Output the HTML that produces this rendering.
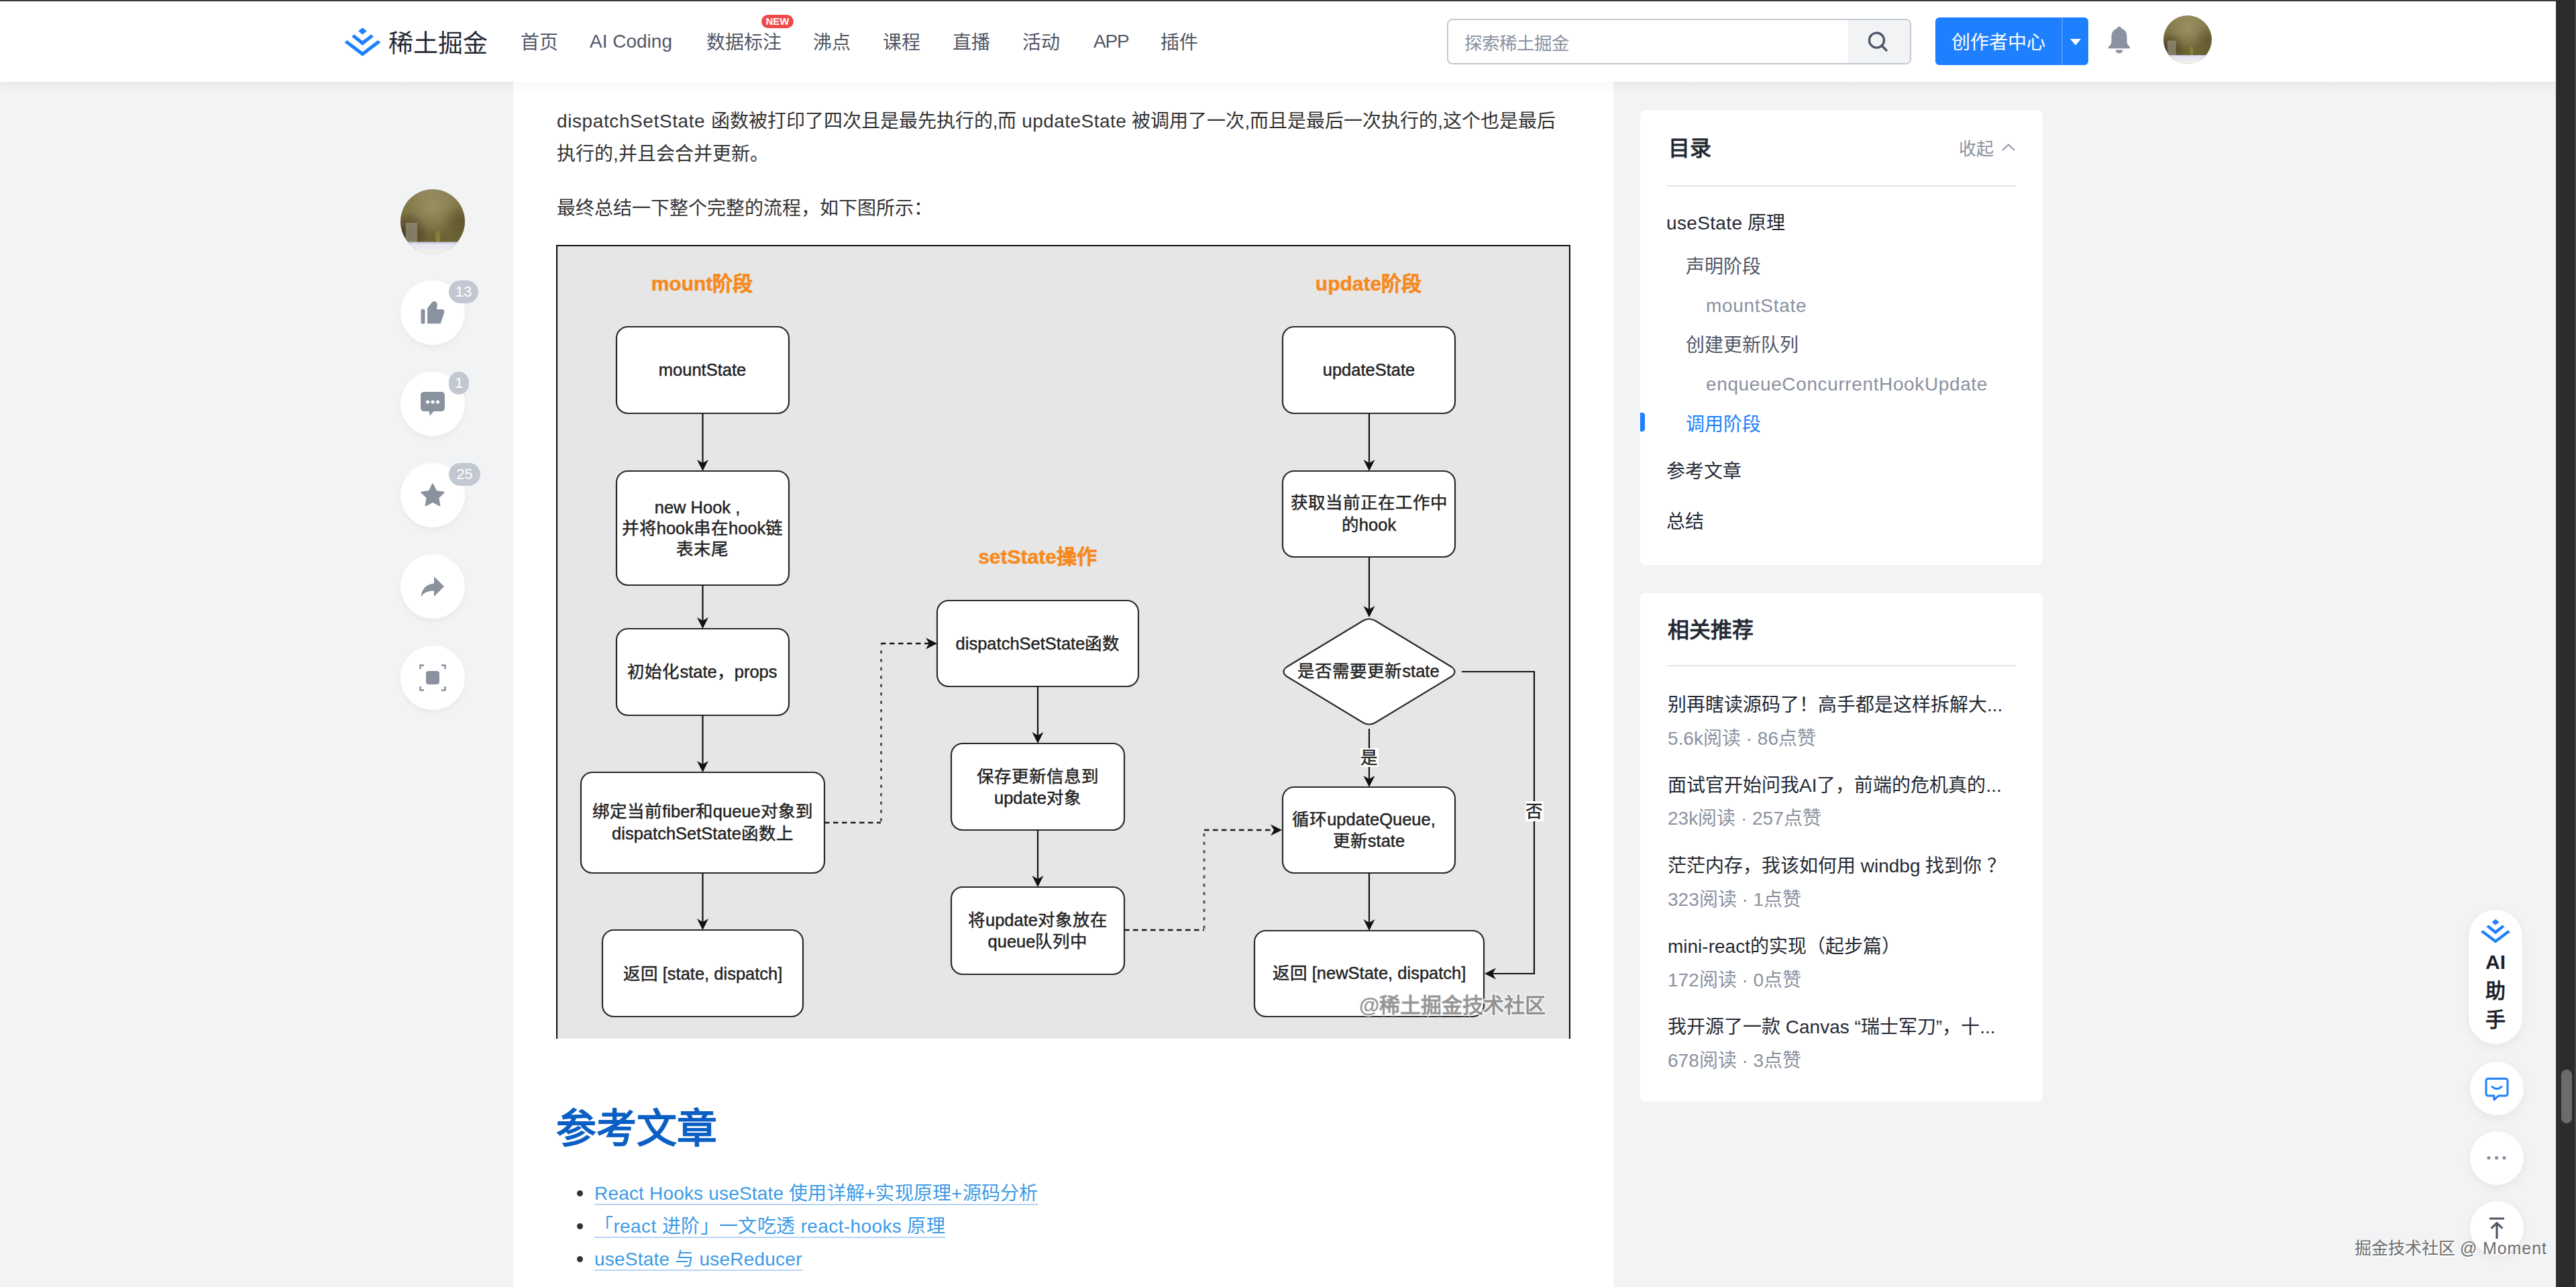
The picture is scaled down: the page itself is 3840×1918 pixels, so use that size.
<!DOCTYPE html>
<html lang="zh-CN">
<head>
<meta charset="utf-8">
<style>
*{box-sizing:border-box;margin:0;padding:0}
html,body{width:3840px;height:1918px;overflow:hidden}
body{background:#f2f3f5;font-family:"Liberation Sans",sans-serif;position:relative;color:#252933}
.abs{position:absolute}
.nw{white-space:nowrap}
#topline{left:0;top:0;width:3840px;height:2px;background:#3a3a3a}
#header{left:0;top:2px;width:3810px;height:120px;background:#fff;box-shadow:0 2px 8px rgba(0,0,0,.03)}
#scroll{left:3810px;top:0;width:30px;height:1918px;background:#2c2c2c}
#thumb{left:3818px;top:1594px;width:16px;height:80px;border-radius:8px;background:#6b6b6b}
.nav{font-size:28px;color:#515767;line-height:40px;top:43.5px}
#article{left:765px;top:122px;width:1640px;height:1796px;background:#fff}
.p{font-size:28px;color:#333;line-height:49px;left:830px}
.circ{width:96px;height:96px;border-radius:50%;background:#fff;box-shadow:0 4px 8px rgba(0,0,0,.045)}
.badge{background:#c2c8d1;color:#fff;font-size:22px;height:34px;line-height:34px;border-radius:17px;text-align:center;padding:0 8px}
.card{background:#fff;border-radius:8px}
.toc{font-size:28px;line-height:40px;left:2484px}
.rt{font-size:28px;line-height:40px;color:#252933;left:2486px}
.rm{font-size:28px;line-height:36px;color:#8a919f;left:2486px}
.lnk{left:886px;font-size:28px;line-height:31px;color:#3d9be6;border-bottom:2px solid #b9d3f5;padding-bottom:0}
.fcirc{width:80px;height:80px;border-radius:50%;background:#fff;box-shadow:0 4px 16px rgba(0,0,0,.06)}
</style>
</head>
<body>
<svg width="0" height="0" style="position:absolute"><defs>
<linearGradient id="avbg" x1="0" y1="0" x2="0" y2="1"><stop offset="0" stop-color="#8c8456"/><stop offset=".45" stop-color="#7b7042"/><stop offset=".8" stop-color="#6a6232"/></linearGradient>
<radialGradient id="avhl" cx=".5" cy=".3" r=".4"><stop offset="0" stop-color="#b8ad80" stop-opacity=".45"/><stop offset="1" stop-color="#b8ad80" stop-opacity="0"/></radialGradient>
<radialGradient id="avdk" cx=".1" cy=".7" r=".35"><stop offset="0" stop-color="#3c3220" stop-opacity=".8"/><stop offset="1" stop-color="#3c3220" stop-opacity="0"/></radialGradient>
<radialGradient id="avdr" cx=".95" cy=".5" r=".3"><stop offset="0" stop-color="#4a4220" stop-opacity=".5"/><stop offset="1" stop-color="#4a4220" stop-opacity="0"/></radialGradient>
<clipPath id="avclip"><circle cx="50" cy="50" r="50"/></clipPath>
<symbol id="avatar" viewBox="0 0 100 100"><g clip-path="url(#avclip)">
<rect width="100" height="100" fill="url(#avbg)"/>
<rect width="100" height="100" fill="url(#avhl)"/>
<rect width="100" height="100" fill="url(#avdk)"/>
<rect width="100" height="100" fill="url(#avdr)"/>
<rect x="8" y="52" width="18" height="30" fill="#9a9280" opacity=".7"/>
<ellipse cx="58" cy="74" rx="4" ry="10" fill="#85843a" opacity=".9"/>
<rect x="0" y="82" width="100" height="18" fill="#e9e8f2"/>
<rect x="0" y="82" width="100" height="2.5" fill="#c9cae0"/>
<rect x="0" y="93" width="100" height="7" fill="#f3eee6"/>
</symbol></defs></svg>
<div id="topline" class="abs"></div>
<div id="header" class="abs"></div>
<!-- logo -->
<svg class="abs" style="left:505px;top:35px" width="70" height="55" viewBox="505 35 70 55">
<path fill="#1e80ff" d="M540.4 41.2L546.7 46.3L540.4 51.5L534.1 46.3Z M524.2 54.4L527.9 51.2L540.4 60.9L553.3 51.2L556.9 54.4L540.4 67.7Z M513.5 63.2L517.4 60L540.4 77.3L563.3 60L567.4 63.2L540.4 83.7Z"/>
</svg>
<div class="abs nw" style="left:579px;top:38.5px;font-size:37px;line-height:54px;color:#252933;font-weight:500">稀土掘金</div>
<div class="abs nw nav" style="left:776px">首页</div>
<div class="abs nw nav" style="left:879px;top:42px">AI Coding</div>
<div class="abs nw nav" style="left:1053px">数据标注</div>
<div class="abs nw" style="left:1135px;top:22px;width:48px;height:20px;border-radius:10px;background:#ee4a4a;color:#fff;font-size:15px;line-height:20px;text-align:center;font-weight:bold">NEW</div>
<div class="abs nw nav" style="left:1212px">沸点</div>
<div class="abs nw nav" style="left:1316px">课程</div>
<div class="abs nw nav" style="left:1420px">直播</div>
<div class="abs nw nav" style="left:1524px">活动</div>
<div class="abs nw nav" style="left:1630px;top:41.5px;letter-spacing:-1.2px">APP</div>
<div class="abs nw nav" style="left:1730px">插件</div>
<!-- search -->
<div class="abs" style="left:2157px;top:28px;width:692px;height:68px;border:2px solid #c2c8d1;border-radius:8px;background:#fff;overflow:hidden">
  <div class="abs" style="left:596px;top:0;width:92px;height:64px;background:#f2f3f5"></div>
</div>
<div class="abs nw" style="left:2183px;top:45px;font-size:26.5px;line-height:40px;color:#8a919f">探索稀土掘金</div>
<svg class="abs" style="left:2780px;top:42px" width="40" height="40" viewBox="0 0 40 40">
<circle cx="17.5" cy="18" r="11" fill="none" stroke="#515767" stroke-width="3.4"/>
<path d="M25.5 26.5L32 33" stroke="#515767" stroke-width="3.4" stroke-linecap="round"/>
</svg>
<!-- creator btn -->
<div class="abs" style="left:2885px;top:26px;width:228px;height:71px;border-radius:6px;background:#1e80ff"></div>
<div class="abs" style="left:3073px;top:26px;width:2px;height:71px;background:#4a9aff"></div>
<div class="abs nw" style="left:2909px;top:43.5px;font-size:28px;line-height:40px;color:#fff">创作者中心</div>
<svg class="abs" style="left:3084px;top:55px" width="20" height="15" viewBox="0 0 20 15"><path d="M2 3H18L10 12.5Z" fill="#fff"/></svg>
<!-- bell -->
<svg class="abs" style="left:3138px;top:36px" width="42" height="46" viewBox="0 0 42 46">
<path fill="#8a919f" d="M21 3.5c1.8 0 3 1.2 3 2.8c5.2 1.5 8.5 6 8.5 12v7.5c0 3 1.5 5.5 4.2 8c1 .9.6 2.4-.9 2.4H6.2c-1.5 0-1.9-1.5-.9-2.4c2.7-2.5 4.2-5 4.2-8V18.3c0-6 3.3-10.5 8.5-12c0-1.6 1.2-2.8 3-2.8Z M15.5 38.5h11c0 3-2.4 4.8-5.5 4.8s-5.5-1.8-5.5-4.8Z"/>
</svg>
<!-- avatar header -->
<svg class="abs" style="left:3225px;top:23px" width="72" height="72"><use href="#avatar" width="72" height="72"/></svg>

<!-- scrollbar -->
<div id="scroll" class="abs"></div>
<div id="thumb" class="abs"></div>
<div class="abs" style="left:3838px;top:0;width:2px;height:1918px;background:#474747"></div>
<div class="abs" style="left:3810px;top:0;width:1px;height:1918px;background:#3a3a3a"></div>

<!-- article -->
<div id="article" class="abs"></div>
<div class="abs" style="left:0;top:122px;width:3810px;height:22px;background:linear-gradient(180deg,rgba(0,0,0,.025),rgba(0,0,0,0))"></div>
<div class="abs nw p" style="top:156px"><span style="letter-spacing:.6px">dispatchSetState </span>函数被打印了四次且是最先执行的,而 <span style="letter-spacing:.45px">updateState </span>被调用了一次,而且是最后一次执行的,这个也是最后</div>
<div class="abs nw p" style="top:205px">执行的,并且会合并更新。</div>
<div class="abs nw p" style="top:286px">最终总结一下整个完整的流程，如下图所示：</div>

<!-- FLOWCHART -->
<svg class="abs" style="left:829px;top:365px" width="1512" height="1183" viewBox="829 365 1512 1183" font-family="Liberation Sans, sans-serif"><rect x="829" y="365" width="1512" height="1183" fill="#e6e6e6"/><path d="M830 1548V366H2340V1548" fill="none" stroke="#111" stroke-width="2.2"/><g fill="#f68a1e" font-weight="bold" stroke="#f68a1e" stroke-width=".5"><text x="1046.5" y="433.1" font-size="30" text-anchor="middle" >mount阶段</text><text x="1546.5" y="840.1" font-size="30" text-anchor="middle" >setState操作</text><text x="2040" y="433.1" font-size="30" text-anchor="middle" >update阶段</text></g><rect x="919" y="487" width="257" height="129" rx="17" ry="17" fill="#fff" stroke="#2a2a2a" stroke-width="2.2"/><rect x="919" y="702" width="257" height="170" rx="17" ry="17" fill="#fff" stroke="#2a2a2a" stroke-width="2.2"/><rect x="919" y="937" width="257" height="129" rx="17" ry="17" fill="#fff" stroke="#2a2a2a" stroke-width="2.2"/><rect x="866" y="1151" width="363" height="150" rx="17" ry="17" fill="#fff" stroke="#2a2a2a" stroke-width="2.2"/><rect x="898" y="1386" width="299" height="129" rx="17" ry="17" fill="#fff" stroke="#2a2a2a" stroke-width="2.2"/><path d="M1047.5 616V692" stroke="#111" stroke-width="2.2" fill="none"/><path d="M1047.5 702L1039.0 685L1047.5 690L1056.0 685Z" fill="#111"/><path d="M1047.5 872V927" stroke="#111" stroke-width="2.2" fill="none"/><path d="M1047.5 937L1039.0 920L1047.5 925L1056.0 920Z" fill="#111"/><path d="M1047.5 1066V1141" stroke="#111" stroke-width="2.2" fill="none"/><path d="M1047.5 1151L1039.0 1134L1047.5 1139L1056.0 1134Z" fill="#111"/><path d="M1047.5 1301V1376" stroke="#111" stroke-width="2.2" fill="none"/><path d="M1047.5 1386L1039.0 1369L1047.5 1374L1056.0 1369Z" fill="#111"/><rect x="1397" y="895" width="300" height="128" rx="17" ry="17" fill="#fff" stroke="#2a2a2a" stroke-width="2.2"/><rect x="1418" y="1108" width="258" height="129" rx="17" ry="17" fill="#fff" stroke="#2a2a2a" stroke-width="2.2"/><rect x="1418" y="1322" width="258" height="130" rx="17" ry="17" fill="#fff" stroke="#2a2a2a" stroke-width="2.2"/><path d="M1547 1023V1098" stroke="#111" stroke-width="2.2" fill="none"/><path d="M1547 1108L1538.5 1091L1547 1096L1555.5 1091Z" fill="#111"/><path d="M1547 1237V1312" stroke="#111" stroke-width="2.2" fill="none"/><path d="M1547 1322L1538.5 1305L1547 1310L1555.5 1305Z" fill="#111"/><rect x="1912" y="487" width="257" height="129" rx="17" ry="17" fill="#fff" stroke="#2a2a2a" stroke-width="2.2"/><rect x="1912" y="702" width="257" height="128" rx="17" ry="17" fill="#fff" stroke="#2a2a2a" stroke-width="2.2"/><rect x="1912" y="1173" width="257" height="128" rx="17" ry="17" fill="#fff" stroke="#2a2a2a" stroke-width="2.2"/><rect x="1870" y="1387" width="342" height="128" rx="17" ry="17" fill="#fff" stroke="#2a2a2a" stroke-width="2.2"/><path d="M2041 616V692" stroke="#111" stroke-width="2.2" fill="none"/><path d="M2041 702L2032.5 685L2041 690L2049.5 685Z" fill="#111"/><path d="M2041 830V910" stroke="#111" stroke-width="2.2" fill="none"/><path d="M2041 920L2032.5 903L2041 908L2049.5 903Z" fill="#111"/><path d="M2041 1301V1377" stroke="#111" stroke-width="2.2" fill="none"/><path d="M2041 1387L2032.5 1370L2041 1375L2049.5 1370Z" fill="#111"/><path d="M2032 925Q2041 920 2050 925L2164 994Q2173 1001 2164 1008L2050 1077Q2041 1082 2032 1077L1918 1008Q1909 1001 1918 994Z" fill="#fff" stroke="#2a2a2a" stroke-width="2.2"/><path d="M2041 1086V1162" stroke="#111" stroke-width="2.2"/><path d="M2041 1173L2032.5 1156L2041 1161L2049.5 1156Z" fill="#111"/><rect x="2028" y="1115" width="27" height="28" fill="#fff"/><path d="M2179 1001H2287V1451H2225" fill="none" stroke="#111" stroke-width="2.2"/><path d="M2213 1451L2230 1442.5L2225 1451L2230 1459.5Z" fill="#111"/><rect x="2274" y="1194" width="27" height="30" fill="#fff"/><path d="M1229 1226H1313M1313 959H1385" fill="none" stroke="#1a1a1a" stroke-width="2.4" stroke-dasharray="7.5 5.5"/><path d="M1313.5 1224V961" fill="none" stroke="#555" stroke-width="3" stroke-dasharray="4.5 8"/><path d="M1397 959L1380 950.5L1385 959L1380 967.5Z" fill="#111"/><path d="M1676 1386H1795M1795 1237H1899" fill="none" stroke="#1a1a1a" stroke-width="2.4" stroke-dasharray="7.5 5.5"/><path d="M1795 1384V1239" fill="none" stroke="#555" stroke-width="3" stroke-dasharray="4.5 8"/><path d="M1911 1237L1894 1228.5L1899 1237L1894 1245.5Z" fill="#111"/><g fill="#222" stroke="#222" stroke-width=".45"><text x="1047" y="560.4" font-size="25.5" text-anchor="middle" >mountState</text><text x="1039.5" y="764.9" font-size="25.5" text-anchor="middle" >new Hook ,</text><text x="1047" y="795.9" font-size="25.5" text-anchor="middle" >并将hook串在hook链</text><text x="1047" y="826.9" font-size="25.5" text-anchor="middle" >表末尾</text><text x="1047" y="1010.4" font-size="25.5" text-anchor="middle" >初始化state，props</text><text x="1047.5" y="1218.4" font-size="25.5" text-anchor="middle" >绑定当前fiber和queue对象到</text><text x="1047.5" y="1251.4" font-size="25.5" text-anchor="middle" >dispatchSetState函数上</text><text x="1047.5" y="1459.9" font-size="25.5" text-anchor="middle" >返回 [state, dispatch]</text><text x="1547" y="968.4" font-size="25.5" text-anchor="middle" >dispatchSetState函数</text><text x="1547" y="1166.4" font-size="25.5" text-anchor="middle" >保存更新信息到</text><text x="1547" y="1198.4" font-size="25.5" text-anchor="middle" >update对象</text><text x="1547" y="1380.4" font-size="25.5" text-anchor="middle" >将update对象放在</text><text x="1547" y="1412.4" font-size="25.5" text-anchor="middle" >queue队列中</text><text x="2040.5" y="560.4" font-size="25.5" text-anchor="middle" >updateState</text><text x="2040.5" y="758.4" font-size="25.5" text-anchor="middle" >获取当前正在工作中</text><text x="2040.5" y="791.4" font-size="25.5" text-anchor="middle" >的hook</text><text x="2040" y="1009.4" font-size="25.5" text-anchor="middle" >是否需要更新state</text><text x="2041" y="1138.4" font-size="25.5" text-anchor="middle" >是</text><text x="2287" y="1218.4" font-size="25.5" text-anchor="middle" >否</text><text x="2033" y="1229.9" font-size="25.5" text-anchor="middle" >循环updateQueue,</text><text x="2040.5" y="1262.4" font-size="25.5" text-anchor="middle" >更新state</text><text x="2041" y="1459.4" font-size="25.5" text-anchor="middle" >返回 [newState, dispatch]</text></g><text x="2165" y="1509" font-size="31" text-anchor="middle" fill="#7c7c7c" stroke="#fafafa" stroke-width="3.5" paint-order="stroke" font-weight="bold" opacity=".8">@稀土掘金技术社区</text></svg>
<!-- references -->
<div class="abs nw" style="left:829px;top:1648px;font-size:60px;line-height:70px;font-weight:bold;color:#0b5fc4">参考文章</div>
<div class="abs" style="left:860px;top:1774px;width:9px;height:9px;border-radius:50%;background:#333"></div>
<div class="abs" style="left:860px;top:1823px;width:9px;height:9px;border-radius:50%;background:#333"></div>
<div class="abs" style="left:860px;top:1872px;width:9px;height:9px;border-radius:50%;background:#333"></div>
<div class="abs nw lnk" style="top:1762.5px;letter-spacing:.18px">React Hooks useState 使用详解+实现原理+源码分析</div>
<div class="abs nw lnk" style="top:1811.5px;letter-spacing:.39px">「react 进阶」一文吃透 react-hooks 原理</div>
<div class="abs nw lnk" style="top:1860.5px;letter-spacing:.22px">useState 与 useReducer</div>
<!-- left sidebar -->
<svg class="abs" style="left:597px;top:282px" width="96" height="96"><use href="#avatar" width="96" height="96"/></svg>
<div class="abs circ" style="left:597px;top:418px"></div>
<div class="abs circ" style="left:597px;top:554px"></div>
<div class="abs circ" style="left:597px;top:690px"></div>
<div class="abs circ" style="left:597px;top:826px"></div>
<div class="abs circ" style="left:597px;top:962px"></div>
<svg class="abs" style="left:597px;top:418px" width="96" height="96" viewBox="0 0 96 96">
<rect x="30.5" y="42.6" width="6" height="22.2" rx="3" fill="#8a919f"/>
<path fill="#8a919f" d="M40 41.6L46 33.8C47.5 31.8 48.8 31 50.2 31C52.8 31 54.8 33.2 54.8 36C54.8 38.5 54.2 41 53.7 43.1H62.3C64.5 43.1 65.8 45.3 65.3 47.6L59.8 64.3H40Z"/>
</svg>
<div class="abs badge" style="left:669px;top:418px;width:44px;padding:0">13</div>
<svg class="abs" style="left:597px;top:554px" width="96" height="96" viewBox="0 0 96 96">
<path fill="#8a919f" d="M35 30h26c2.8 0 5 2.2 5 5v19c0 2.8-2.2 5-5 5H49.5l-5.5 6.5l-1.5-6.5H35c-2.8 0-5-2.2-5-5V35c0-2.8 2.2-5 5-5Z"/>
<circle cx="40.5" cy="45" r="2.6" fill="#fff"/><circle cx="48" cy="45" r="2.6" fill="#fff"/><circle cx="55.5" cy="45" r="2.6" fill="#fff"/>
</svg>
<div class="abs badge" style="left:669px;top:554px;width:30px;padding:0">1</div>
<svg class="abs" style="left:597px;top:690px" width="96" height="96" viewBox="0 0 96 96">
<path fill="#8a919f" d="M48 31.5l5.2 10.6l11.5 1.6l-8.3 8.1l2 11.5L48 57.9l-10.4 5.4l2-11.5l-8.3-8.1l11.5-1.6Z" stroke="#8a919f" stroke-width="2" stroke-linejoin="round"/>
</svg>
<div class="abs badge" style="left:669px;top:690px;width:47px;padding:0">25</div>
<svg class="abs" style="left:597px;top:826px" width="96" height="96" viewBox="0 0 96 96">
<path fill="#8a919f" d="M50 33l15 15l-15 15V54.5c-9 0-15 2.5-19.5 9c1-11 7-18.5 19.5-20Z"/>
</svg>
<svg class="abs" style="left:597px;top:962px" width="96" height="96" viewBox="0 0 96 96">
<path fill="none" stroke="#8a919f" stroke-width="2.6" d="M29.5 35V29.5H35 M61 29.5h5.5V35 M66.5 61v5.5H61 M35 66.5h-5.5V61"/>
<rect x="38" y="38" width="20" height="20" rx="4" fill="#8a919f"/>
</svg>
<!-- right cards -->
<div class="abs card" style="left:2445px;top:164px;width:600px;height:678px"></div>
<div class="abs nw" style="left:2487px;top:200px;font-size:32px;line-height:42px;font-weight:bold;color:#252933">目录</div>
<div class="abs nw" style="left:2920px;top:203.5px;font-size:26px;line-height:36px;color:#8a919f">收起</div>
<svg class="abs" style="left:2982px;top:210px" width="24" height="20" viewBox="0 0 24 20"><path d="M3 14L12 5.5L21 14" fill="none" stroke="#8a919f" stroke-width="1.9"/></svg>
<div class="abs" style="left:2485px;top:276px;width:520px;height:2px;background:#e4e6eb"></div>
<div class="abs nw toc" style="top:313px;color:#252933"><span style="letter-spacing:.35px">useState </span>原理</div>
<div class="abs nw toc" style="top:378px;left:2513px;color:#515767">声明阶段</div>
<div class="abs nw toc" style="top:436px;left:2543px;color:#8a919f;letter-spacing:.7px">mountState</div>
<div class="abs nw toc" style="top:495px;left:2513px;color:#515767">创建更新队列</div>
<div class="abs nw toc" style="top:553px;left:2543px;color:#8a919f;letter-spacing:.62px">enqueueConcurrentHookUpdate</div>
<div class="abs" style="left:2445px;top:615px;width:7px;height:28px;border-radius:0 4px 4px 0;background:#1e80ff"></div>
<div class="abs nw toc" style="top:613px;left:2513px;color:#1e80ff">调用阶段</div>
<div class="abs nw toc" style="top:683px;color:#252933">参考文章</div>
<div class="abs nw toc" style="top:758px;color:#252933">总结</div>

<div class="abs card" style="left:2445px;top:884px;width:600px;height:758px"></div>
<div class="abs nw" style="left:2486px;top:918px;font-size:32px;line-height:42px;font-weight:bold;color:#252933">相关推荐</div>
<div class="abs" style="left:2486px;top:991px;width:519px;height:2px;background:#e4e6eb"></div>
<div class="abs nw rt" style="top:1031px">别再瞎读源码了！高手都是这样拆解大...</div>
<div class="abs nw rm" style="top:1083px">5.6k阅读 · 86点赞</div>
<div class="abs nw rt" style="top:1151px">面试官开始问我AI了，前端的危机真的...</div>
<div class="abs nw rm" style="top:1202px">23k阅读 · 257点赞</div>
<div class="abs nw rt" style="top:1271px">茫茫内存，我该如何用 windbg 找到你 ？</div>
<div class="abs nw rm" style="top:1323px">323阅读 · 1点赞</div>
<div class="abs nw rt" style="top:1391px">mini-react的实现（起步篇）</div>
<div class="abs nw rm" style="top:1443px">172阅读 · 0点赞</div>
<div class="abs nw rt" style="top:1511px">我开源了一款 Canvas “瑞士军刀”，十...</div>
<div class="abs nw rm" style="top:1563px">678阅读 · 3点赞</div>

<!-- floating -->
<div class="abs" style="left:3680px;top:1356px;width:80px;height:200px;border-radius:40px;background:#fff;box-shadow:0 4px 16px rgba(0,0,0,.06)"></div>
<svg class="abs" style="left:3690px;top:1362px" width="60" height="50" viewBox="3690 1362 60 50">
<path fill="#1e80ff" d="M3720 1369.8L3725.5 1374.3L3720 1378.8L3714.5 1374.3Z M3706.5 1381.3L3709.7 1378.5L3720 1386.5L3730.3 1378.5L3733.5 1381.3L3720 1392.2Z M3698 1389L3701.4 1386.2L3720 1400.3L3738.6 1386.2L3742 1389L3720 1405.5Z"/>
</svg>
<div class="abs nw" style="left:3680px;top:1412px;width:80px;text-align:center;font-size:30px;line-height:43px;font-weight:bold;color:#1d2129">AI<br>助<br>手</div>
<div class="abs fcirc" style="left:3682px;top:1582px"></div>
<svg class="abs" style="left:3682px;top:1582px" width="80" height="80" viewBox="0 0 80 80">
<path fill="none" stroke="#1e80ff" stroke-width="3" stroke-linejoin="round" d="M27 25.5h26c1.7 0 3 1.3 3 3V48c0 1.7-1.3 3-3 3H42.5l-6.5 6v-6h-9c-1.7 0-3-1.3-3-3V28.5c0-1.7 1.3-3 3-3Z"/>
<path fill="none" stroke="#1e80ff" stroke-width="3" stroke-linecap="round" d="M33 37.5c4 4 10 4 14 0"/>
</svg>
<div class="abs fcirc" style="left:3682px;top:1686px"></div>
<svg class="abs" style="left:3682px;top:1686px" width="80" height="80" viewBox="0 0 80 80">
<circle cx="28" cy="39.5" r="2.6" fill="#8a919f"/><circle cx="39.6" cy="39.5" r="2.6" fill="#8a919f"/><circle cx="51" cy="39.5" r="2.6" fill="#8a919f"/>
</svg>
<div class="abs fcirc" style="left:3682px;top:1790px"></div>
<svg class="abs" style="left:3682px;top:1790px" width="80" height="80" viewBox="0 0 80 80">
<path fill="none" stroke="#515767" stroke-width="3.2" d="M29 26H51 M40 56V34 M31.6 40.6L40 32.6L48.4 40.6"/>
</svg>
<div class="abs nw" style="left:3510px;top:1842px;font-size:25px;line-height:36px;color:#6e6e6e;text-shadow:1.5px 1.5px 0 #fff">掘金技术社区 <span style="letter-spacing:.9px">@ Moment</span></div>
</body>
</html>
